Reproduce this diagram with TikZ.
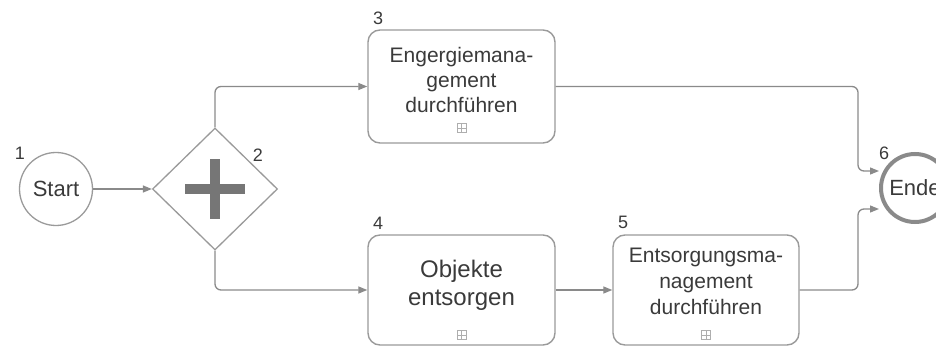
\documentclass[tikz,border=0pt]{standalone}
\usepackage{fontspec}
\setmainfont{Liberation Sans}
\usetikzlibrary{shapes.geometric,arrows.meta,calc}
\definecolor{txt}{HTML}{3A3A3A}
\definecolor{edge}{HTML}{8A8A8A}
\definecolor{boxline}{HTML}{9A9A9A}
\definecolor{plusc}{HTML}{767676}
\tikzset{
  x=1pt,y=-1pt,
  every node/.style={text=txt},
  taskbox/.style={draw=boxline,line width=1.4pt,rounded corners=12pt,inner sep=0pt},
  tasktxt/.style={align=center,inner sep=0pt},
  numlbl/.style={font=\fontsize{18}{18}\selectfont,inner sep=0pt},
  flow/.style={draw=edge,line width=1.3pt,rounded corners=6pt,-{Triangle[length=9pt,width=7pt]}},
  subicon/.style={draw=boxline!80,line width=0.7pt,minimum size=9pt,inner sep=0pt,
    path picture={\draw[boxline!80,line width=0.7pt] (path picture bounding box.north) -- (path picture bounding box.south)
      (path picture bounding box.west) -- (path picture bounding box.east);}},
}
\begin{document}
\begin{tikzpicture}
\useasboundingbox (0,0) rectangle (936,347);
% start event
\node[circle,draw=boxline,line width=1.3pt,minimum size=73pt,inner sep=0pt,font=\fontsize{22}{22}\selectfont] (start) at (56,189) {Start};
\node[numlbl] (l1) at (20,153) {1};
% gateway
\node[diamond,draw=boxline,line width=1.3pt,minimum width=125pt,minimum height=122pt,inner sep=0pt] (gw) at (215,189) {};
\fill[plusc] ($(gw.center)+(-30,-5)$) rectangle ($(gw.center)+(30,5)$);
\fill[plusc] ($(gw.center)+(-5,-30)$) rectangle ($(gw.center)+(5,30)$);
\node[numlbl] (l2) at (258,155) {2};
% tasks
\node[taskbox,minimum width=187pt,minimum height=113pt] (t3) at (461.5,86.5) {};
\node[tasktxt,font=\fontsize{21}{25}\selectfont] (t3t) at (461.5,79.5) {Engergiemana-\\gement\\durchführen};
\node[subicon] (t3i) at (461.5,128) {};
\node[numlbl] (l3) at (378,18) {3};

\node[taskbox,minimum width=187pt,minimum height=110pt] (t4) at (461.5,290) {};
\node[tasktxt,font=\fontsize{24}{28}\selectfont] (t4t) at (461.5,284.8) {Objekte\\entsorgen};
\node[subicon] (t4i) at (461.5,335) {};
\node[numlbl] (l4) at (378,223) {4};

\node[taskbox,minimum width=186pt,minimum height=110pt] (t5) at (706,290) {};
\node[tasktxt,font=\fontsize{21}{26}\selectfont] (t5t) at (706,281.4) {Entsorgungsma-\\nagement\\durchführen};
\node[subicon] (t5i) at (706,335) {};
\node[numlbl] (l5) at (623,222) {5};
% end event
\node[circle,draw=edge,line width=4pt,minimum size=68pt,inner sep=0pt,font=\fontsize{22}{22}\selectfont] (end) at (915,188) {Ende};
\node[numlbl] (l6) at (884,153) {6};
% bend points
\coordinate (j1) at (858,171);
\coordinate (j2) at (858,209);
% flows
\draw[flow] (start.east) -- (gw.west);
\draw[flow] (gw.north) |- (t3.west);
\draw[flow] (gw.south) |- (t4.west);
\draw[flow] (t4.east) -- (t5.west);
\draw[flow] (t3.east) -| (j1) -- (end.west |- j1);
\draw[flow] (t5.east) -| (j2) -- (end.west |- j2);
\end{tikzpicture}
\end{document}
